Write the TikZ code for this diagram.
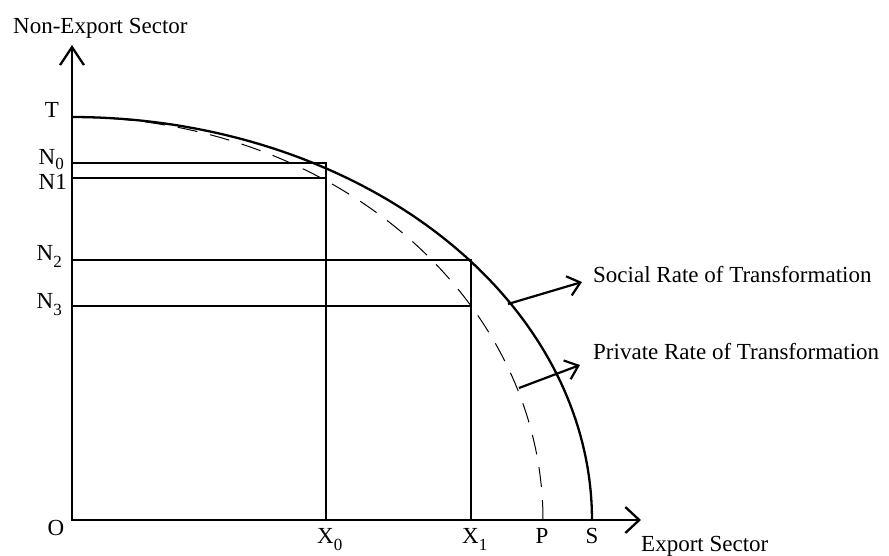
\documentclass[tikz,border=0pt]{standalone}
\usepackage{fontspec}
\setmainfont{Liberation Serif}
\usetikzlibrary{arrows.meta}
\newcommand{\lowsub}[1]{\raisebox{-7pt}{\fontsize{17}{17}\selectfont #1}}
\newcommand{\tightsub}[1]{\raisebox{-5pt}{\fontsize{17}{17}\selectfont\smash{#1}}}
\begin{document}
\begin{tikzpicture}[x=1pt,y=-1pt,
  lbl/.style={inner sep=0pt,font=\fontsize{23}{27}\selectfont},
  axisline/.style={line width=2.3pt},
  frontier/.style={line width=2.3pt},
  privfrontier/.style={line width=1pt,dash pattern=on 20pt off 13pt},
  guide/.style={line width=2pt},
  pointer/.style={line width=2.2pt,-{Straight Barb[length=12pt,width=20pt,line width=2.2pt]}}
]
\useasboundingbox (0,0) rectangle (889,555);
% axes
\coordinate (O) at (72,520);
\coordinate (ytip) at (72,45);
\coordinate (xtip) at (641,520);
\draw[axisline,{Straight Barb[length=18pt,width=24pt,line width=2.3pt]}-{Straight Barb[length=14pt,width=26pt,line width=2.3pt]}] (ytip) -- (O) -- (xtip);
% frontiers
\draw[frontier] plot[domain=0:90,samples=150] ({72+520*cos(\x)},{520-403*sin(\x)});
\draw[privfrontier] plot[domain=0:90,samples=150] ({72+471*cos(\x)},{520-403*sin(\x)});
% guide lines
\coordinate (yN0) at (72,163);
\coordinate (cA0) at (326,163);
\coordinate (xX0) at (326,520);
\coordinate (yN1) at (72,178);
\coordinate (cB0) at (326,178);
\coordinate (yN2) at (72,260);
\coordinate (cA1) at (471,260);
\coordinate (xX1) at (471,520);
\coordinate (yN3) at (72,306);
\coordinate (cB1) at (471,306);
\draw[guide] (yN0) -- (cA0) -- (xX0);
\draw[guide] (yN1) -- (cB0);
\draw[guide] (yN2) -- (cA1) -- (xX1);
\draw[guide] (yN3) -- (cB1);
% pointers
\coordinate (s1) at (508,304);
\coordinate (s2) at (582,282);
\coordinate (p1) at (519,388);
\coordinate (p2) at (580,365);
\draw[pointer] (s1) -- (s2);
\draw[pointer] (p1) -- (p2);
% labels
\node[lbl,anchor=west] (ylab) at (13,28) {Non-Export Sector};
\node[lbl,anchor=west] (xlab) at (641,546) {Export Sector};
\node[lbl,anchor=west] (slab) at (593,275) {Social Rate of Transformation};
\node[lbl,anchor=west] (plab) at (593,352) {Private Rate of Transformation};
\node[lbl,anchor=base] (Tlab) at (52,117) {T};
\node[lbl,anchor=base east] (N0lab) at (64,164) {N\tightsub{0}};
\node[lbl,anchor=base east] (N1lab) at (67,189) {N1};
\node[lbl,anchor=base east] (N2lab) at (62,260) {N\lowsub{2}};
\node[lbl,anchor=base east] (N3lab) at (62,308) {N\lowsub{3}};
\node[lbl,anchor=base] (Olab) at (56,535) {O};
\node[lbl,anchor=base west] (X0lab) at (317,543) {X\lowsub{0}};
\node[lbl,anchor=base west] (X1lab) at (462,543) {X\lowsub{1}};
\node[lbl,anchor=base] (Plab) at (542,543) {P};
\node[lbl,anchor=base] (Slab) at (592,543) {S};
\end{tikzpicture}
\end{document}
